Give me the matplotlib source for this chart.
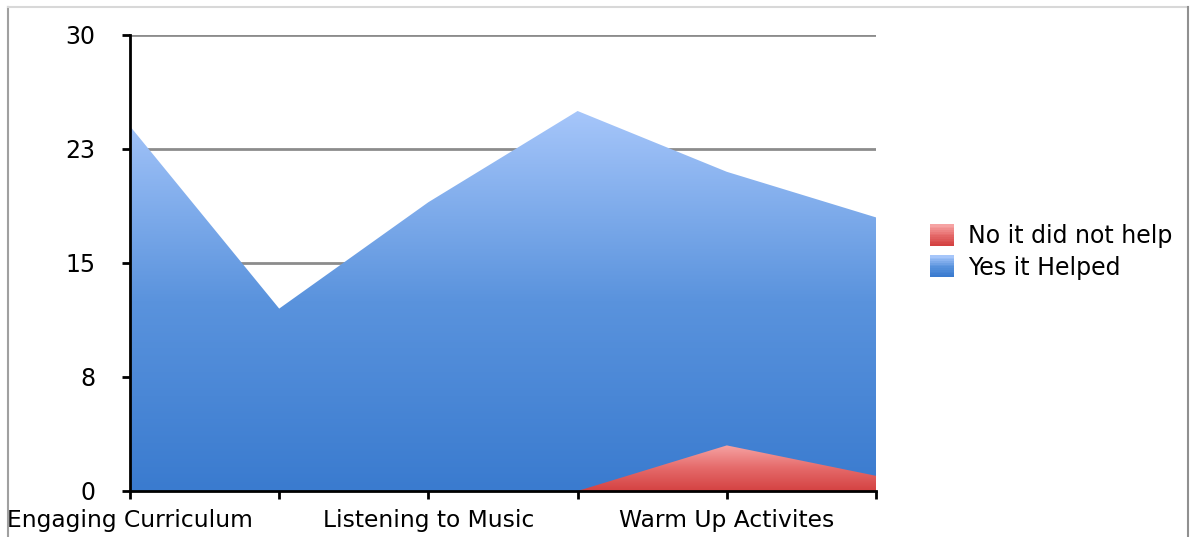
import numpy as np
import matplotlib.pyplot as plt
from matplotlib.colors import LinearSegmentedColormap
from matplotlib.patches import Rectangle
from matplotlib.lines import Line2D
from matplotlib.legend_handler import HandlerBase

categories = ['Engaging Curriculum', '', 'Listening to Music', '', 'Warm Up Activites', '']
yes_helped = [24, 12, 19, 25, 21, 18]
no_help = [0, 0, 0, 0, 3, 1]
series_names = ['No it did not help', 'Yes it Helped']
y_ticks = [0, 7.5, 15, 22.5, 30]
y_labels = ['0', '8', '15', '23', '30']

blue_cmap = LinearSegmentedColormap.from_list('blue', ['#3a7bcf', '#5a93dd', '#a6c6fa'])
red_cmap = LinearSegmentedColormap.from_list('red', ['#d44242', '#e56a6a', '#f6a3a3'])


def gradient_fill(ax, x, y, cmap, zorder):
    poly = ax.fill_between(x, 0, y, color='none', lw=0, zorder=zorder)
    path = poly.get_paths()[0]
    grad = np.linspace(0, 1, 256).reshape(-1, 1)
    im = ax.imshow(grad, cmap=cmap, origin='lower', aspect='auto',
                   extent=[min(x), max(x), 0, max(y)], zorder=zorder,
                   interpolation='bicubic')
    im.set_clip_path(path, transform=ax.transData)
    return im


class GradientHandler(HandlerBase):
    def __init__(self, cmap):
        super().__init__()
        self.cmap = cmap

    def create_artists(self, legend, orig_handle, xdescent, ydescent,
                       width, height, fontsize, trans):
        arts = []
        n = 12
        for i in range(n):
            r = Rectangle((-xdescent, -ydescent + height * i / n), width, height / n + 0.3,
                          facecolor=self.cmap(i / (n - 1)), edgecolor='none', transform=trans)
            arts.append(r)
        return arts


plt.rcParams['font.family'] = ['DejaVu Sans']
fig = plt.figure(figsize=(11.9, 5.37), dpi=100)
ax = fig.add_axes([130 / 1190, 1 - 491 / 537, (876 - 130) / 1190, (491 - 35) / 537])

x = np.arange(len(categories))
gradient_fill(ax, x, yes_helped, blue_cmap, 2)
gradient_fill(ax, x, no_help, red_cmap, 3)

ax.set_xlim(0, len(categories) - 1)
ax.set_ylim(0, 30)
for yv in y_ticks[1:]:
    ax.axhline(yv, color='#8c8c8c', lw=2, zorder=1)

ax.set_yticks(y_ticks)
ax.set_yticklabels(y_labels, fontsize=17)
ax.set_xticks(x)
ax.set_xticklabels(categories, fontsize=16.8)
ax.tick_params(axis='both', length=6, width=2, color='black', direction='out')
ax.tick_params(axis='y', pad=19)
ax.tick_params(axis='x', pad=7)
for s in ['top', 'right']:
    ax.spines[s].set_visible(False)
ax.spines['left'].set_linewidth(2)
ax.spines['bottom'].set_linewidth(2)
ax.spines['bottom'].set_zorder(5)

handles = [Rectangle((0, 0), 1, 1), Rectangle((0, 1), 1, 1)]
leg = fig.legend(handles, series_names, loc='center left',
                 bbox_to_anchor=(909 / 1190, 1 - 252 / 537), frameon=False,
                 fontsize=17, handlelength=1.0, handleheight=1.0,
                 handletextpad=0.62, labelspacing=0.3,
                 handler_map={handles[0]: GradientHandler(red_cmap),
                              handles[1]: GradientHandler(blue_cmap)})

# outer frame
fig.add_artist(Line2D([8 / 1190, 8 / 1190], [0, 1 - 7 / 537], color='#a0a0a0', lw=1.5))
fig.add_artist(Line2D([8 / 1190, 1188 / 1190], [1 - 7 / 537, 1 - 7 / 537], color='#d8d8d8', lw=1.5))
fig.add_artist(Line2D([1188 / 1190, 1188 / 1190], [0, 1 - 7 / 537], color='#909090', lw=1.5))

fig.savefig('out.png', dpi=100)
